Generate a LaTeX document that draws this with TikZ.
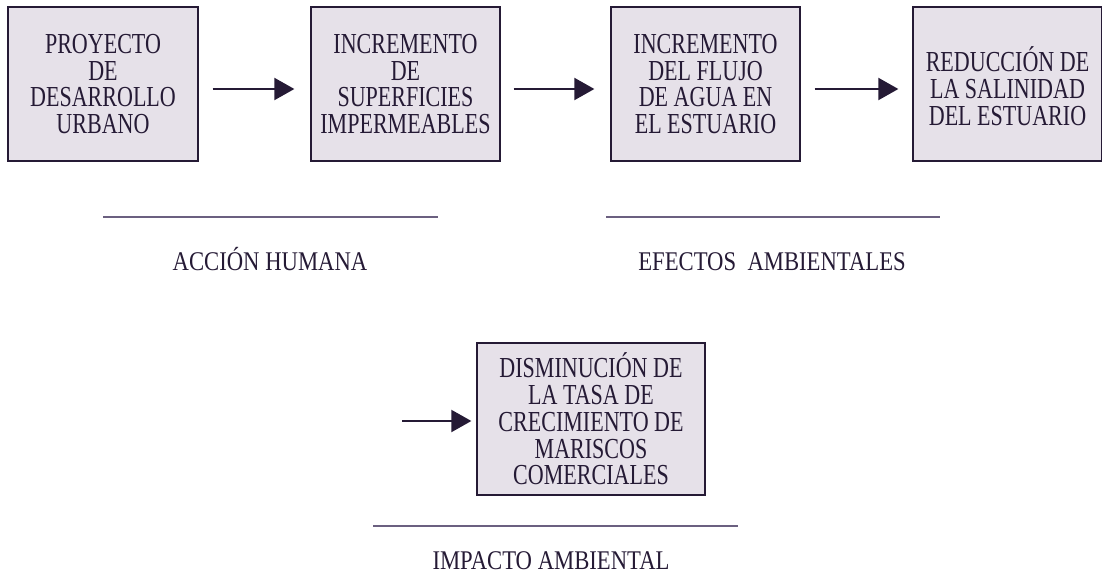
\documentclass[tikz,border=0pt]{standalone}
\usepackage{fontspec}
\setmainfont{Liberation Serif}[FakeStretch=0.76]
\newfontfamily\labelfont{Liberation Serif}[FakeStretch=0.84]
\usepackage{tikz}
\usetikzlibrary{arrows.meta,positioning,calc}
\definecolor{inkpurple}{HTML}{251A35}
\definecolor{boxfill}{HTML}{E6E1E9}
\definecolor{rulegray}{HTML}{6B6080}

\tikzset{
  stage/.style={draw=inkpurple, fill=boxfill, line width=1.3pt, text=inkpurple,
    minimum width=189pt, minimum height=154pt, inner sep=0pt, align=center,
    font=\fontsize{29}{26.7}\selectfont},
  flow/.style={draw=inkpurple, line width=2pt, -{Triangle[length=20pt,width=22pt]}},
  grouprule/.style={draw=rulegray, line width=1.3pt},
  grouplabel/.style={text=inkpurple, inner sep=0pt, font=\labelfont\fontsize{27}{27}\selectfont}
}

\begin{document}
\begin{tikzpicture}[x=1pt, y=-1pt]
\useasboundingbox (0,0) rectangle (1102,575);
% cadena de efectos
\node[stage, minimum width=190pt] (proyecto) at (103,84) {PROYECTO\\DE\\DESARROLLO\\URBANO};
\node[stage] (superficies) at (405.5,84) {INCREMENTO\\DE\\SUPERFICIES\\IMPERMEABLES};
\node[stage] (flujo) at (705.5,84) {INCREMENTO\\DEL FLUJO\\DE AGUA EN\\EL ESTUARIO};
\node[stage] (salinidad) at (1007.5,84) {\rule{0pt}{29pt}REDUCCIÓN DE\\LA SALINIDAD\\DEL ESTUARIO};
\node[stage, minimum width=228pt, minimum height=152pt] (mariscos) at (591,419)
  {DISMINUCIÓN DE\\LA TASA DE\\CRECIMIENTO DE\\MARISCOS\\COMERCIALES};

\draw[flow] ([xshift=14pt,yshift=-5pt]proyecto.east) -- ([xshift=-16pt,yshift=-5pt]superficies.west);
\draw[flow] ([xshift=13pt,yshift=-5pt]superficies.east) -- ([xshift=-16pt,yshift=-5pt]flujo.west);
\draw[flow] ([xshift=14pt,yshift=-5pt]flujo.east) -- ([xshift=-14pt,yshift=-5pt]salinidad.west);
\coordinate (entrada) at (402,421);
\draw[flow] (entrada) -- ([xshift=-5pt]mariscos.west |- entrada);

% grupos
\coordinate (accA) at (103,217);
\coordinate (accB) at (438,217);
\draw[grouprule] (accA) -- (accB);
\node[grouplabel, anchor=base] (accion) at (270,270) {ACCIÓN HUMANA};

\coordinate (efeA) at (606,217);
\coordinate (efeB) at (940,217);
\draw[grouprule] (efeA) -- (efeB);
\node[grouplabel, anchor=base] (efectos) at (772,270) {EFECTOS\ \ AMBIENTALES};

\coordinate (impA) at (373,526);
\coordinate (impB) at (738,526);
\draw[grouprule] (impA) -- (impB);
\node[grouplabel, anchor=base] (impacto) at (551,569) {IMPACTO AMBIENTAL};
\end{tikzpicture}
\end{document}
